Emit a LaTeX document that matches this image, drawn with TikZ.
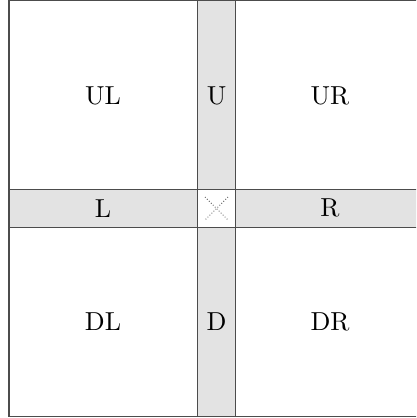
\documentclass[tikz,border=0pt]{standalone}
\usepackage{fontspec}
\newfontfamily\lblfont{lmroman10-regular.otf}
\begin{document}
\begin{tikzpicture}[x=1pt,y=-1pt,
  frameline/.style={line width=1.2pt,draw=black!70},
  band/.style={fill=black!11},
  lbl/.style={font=\lblfont\fontsize{26}{30}\selectfont,inner sep=0pt},
  crossline/.style={black!70,line width=0.8pt,dotted}]
\useasboundingbox (0,0) rectangle (416,418);
\clip (0,0) rectangle (416,418);
% bands
\fill[band] (197.5,0.5) rectangle (235.7,416.5);
\fill[band] (9,189.5) rectangle (430,227.3);
\fill[white] (197.5,189.5) rectangle (235.7,227.3);
% centre cross
\coordinate (c1) at (205,197);
\coordinate (c2) at (228,220);
\coordinate (c3) at (228,197);
\coordinate (c4) at (205,220);
\draw[crossline] (c1) -- (c2);
\draw[crossline] (c3) -- (c4);
% frame and grid lines
\draw[frameline] (9,0.5) rectangle (424,416.5);
\draw[frameline] (197.5,0.5) -- (197.5,416.5);
\draw[frameline] (235.7,0.5) -- (235.7,416.5);
\draw[frameline] (9,189.5) -- (424,189.5);
\draw[frameline] (9,227.3) -- (424,227.3);
% labels
\node[lbl] (UL) at (103,96) {UL};
\node[lbl] (U)  at (216.6,96) {U};
\node[lbl] (UR) at (330,96) {UR};
\node[lbl] (L)  at (103,208.4) {L};
\node[lbl] (R)  at (330,208.4) {R};
\node[lbl] (DL) at (103,322) {DL};
\node[lbl] (D)  at (216.6,322) {D};
\node[lbl] (DR) at (330,322) {DR};
\end{tikzpicture}
\end{document}
